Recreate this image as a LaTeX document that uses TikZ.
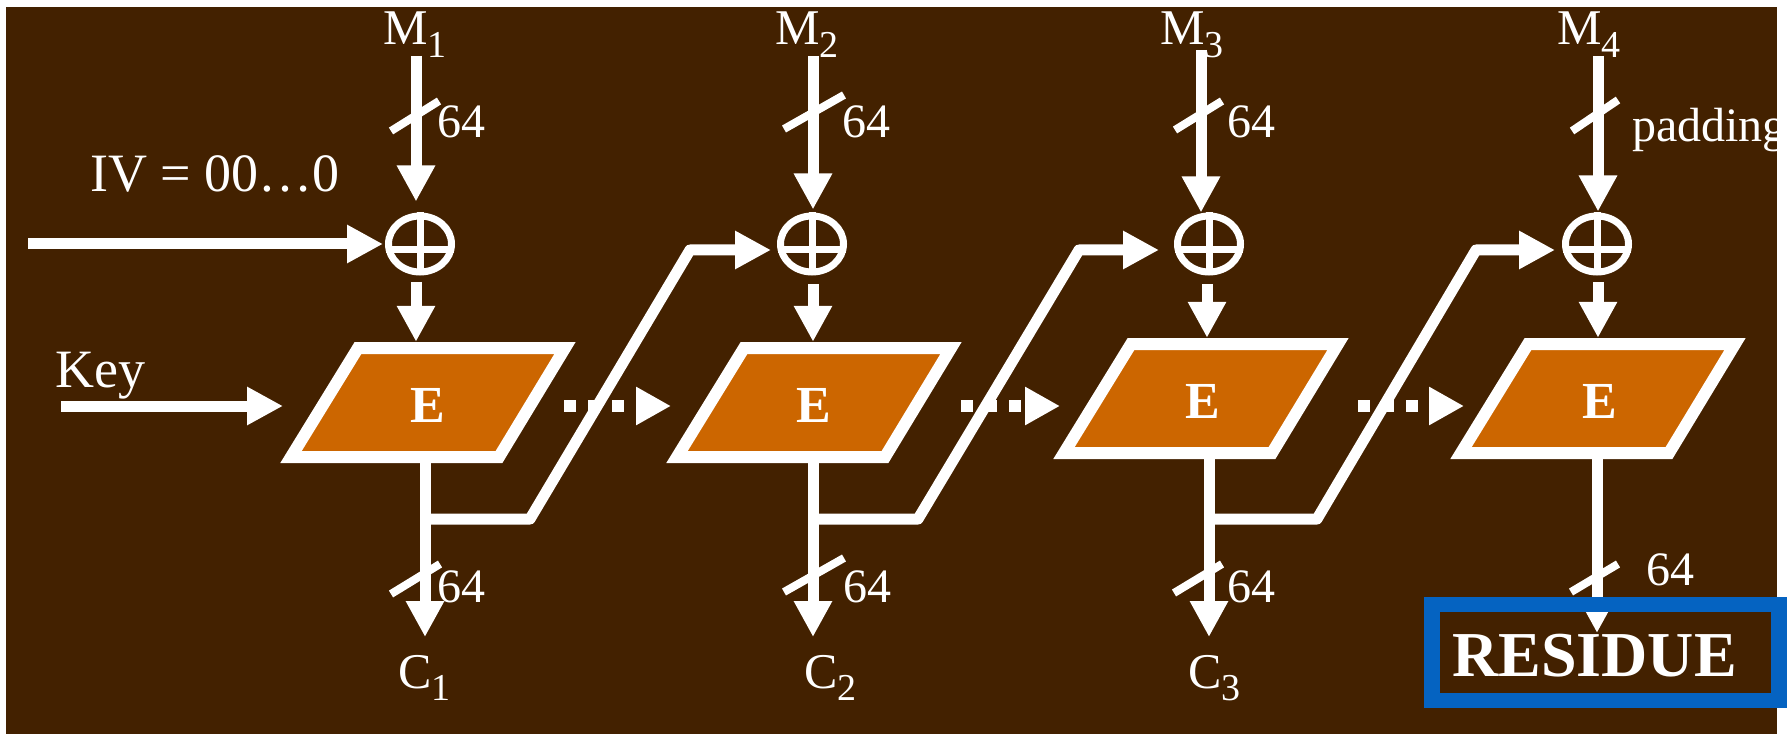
\documentclass[tikz,border=0pt]{standalone}
\usepackage{fontspec}
\setmainfont{Liberation Serif}
\usetikzlibrary{arrows.meta,shapes.geometric,calc}
\definecolor{bgbrown}{HTML}{432100}
\definecolor{eorange}{HTML}{CC6600}
\definecolor{resblue}{HTML}{0563C1}
\newcommand{\sbs}[1]{\raisebox{-12.5pt}{\fontsize{38}{38}\selectfont #1}}
\begin{document}
\begin{tikzpicture}[x=1pt,y=-1pt,
  arr/.style={draw=white, line width=11pt, -{Triangle[length=36pt,width=36pt]}},
  fbline/.style={draw=white, line width=11pt, line join=round, -{Triangle[length=36pt,width=36pt]}},
  dotarr/.style={draw=white, line width=12pt, dash pattern=on 12pt off 12pt, -{Triangle[length=35pt,width=36pt]}},
  slashmark/.style={draw=white, line width=8pt},
  xor/.style={ellipse, draw=white, line width=7pt, minimum width=63pt, minimum height=56pt, inner sep=0pt},
  xorbar/.style={draw=white, line width=7pt},
  ebox/.style={draw=white, line width=12pt, fill=eorange, line join=miter},
  elabel/.style={text=white, font=\fontsize{52}{52}\selectfont\bfseries, minimum height=121pt, minimum width=10pt, inner sep=0pt, text height=40pt, text depth=0pt},
  lbl/.style={text=white, font=\fontsize{50}{60}\selectfont, inner sep=0pt, anchor=base west},
  biglbl/.style={text=white, font=\fontsize{54}{66}\selectfont, inner sep=0pt, anchor=base west},
  numlbl/.style={text=white, font=\fontsize{48}{58}\selectfont, inner sep=0pt, anchor=base west},
  resbox/.style={draw=resblue, line width=15.5pt, minimum width=347pt, minimum height=96pt, inner sep=0pt},
  restext/.style={text=white, font=\fontsize{64}{64}\selectfont\bfseries, inner sep=0pt, anchor=base west},
]
\useasboundingbox (0,0) rectangle (1788,735);
\fill[white] (0,0) rectangle (1788,735);
\fill[bgbrown] (6,7) rectangle (1777,734);

% dotted arrows between the blocks
\coordinate (d1s) at (564,406); \coordinate (d1t) at (671,406);
\coordinate (d2s) at (961,406); \coordinate (d2t) at (1060,406);
\coordinate (d3s) at (1358,406); \coordinate (d3t) at (1464,406);
\draw[dotarr] (d1s) -- (d1t);
\draw[dotarr] (d2s) -- (d2t);
\draw[dotarr] (d3s) -- (d3t);

% E blocks
\draw[ebox] (358,348) -- (565,348) -- (499,457) -- (291,457) -- cycle;
\node[elabel] (E1) at (428,402.5) {E};
\draw[ebox] (744,348) -- (951,348) -- (885,457) -- (677,457) -- cycle;
\node[elabel] (E2) at (814,402.5) {E};
\draw[ebox] (1131,344) -- (1338,344) -- (1272,453) -- (1064,453) -- cycle;
\node[elabel] (E3) at (1203,398.5) {E};
\draw[ebox] (1528,344) -- (1735,344) -- (1669,453) -- (1461,453) -- cycle;
\node[elabel] (E4) at (1600,398.5) {E};

% XOR nodes
\foreach \n/\x in {1/420,2/812,3/1209,4/1597}{
  \node[xor] (X\n) at (\x,244) {};
  \draw[xorbar] (X\n.north) -- (X\n.south);
  \draw[xorbar] ([xshift=1pt,yshift=-6pt]X\n.west) -- ([xshift=-1pt,yshift=-6pt]X\n.east);
}

% labels M
\node[lbl] (M1) at (383,45) {M\sbs{1}};
\node[lbl] (M2) at (775,45) {M\sbs{2}};
\node[lbl] (M3) at (1160,45) {M\sbs{3}};
\node[lbl] (M4) at (1557,45) {M\sbs{4}};

% input lines
\coordinate (m1) at (416,56);
\coordinate (m2) at (813,56);
\coordinate (m3) at (1201,50);
\coordinate (m4) at (1598,56);
\draw[arr, shorten >=11pt] (m1) -- (m1 |- X1.north);
\draw[arr, shorten >=3pt] (m2) -- (m2 |- X2.north);
\draw[arr] (m3) -- (m3 |- X3.north);
\draw[arr, shorten >=1pt] (m4) -- (m4 |- X4.north);

% xor -> E
\coordinate (n1) at (416,282);
\coordinate (n2) at (813,284);
\coordinate (n3) at (1207,284);
\coordinate (n4) at (1598,282);
\draw[arr] (n1) -- (n1 |- E1.north);
\draw[arr] (n2) -- (n2 |- E2.north);
\draw[arr] (n3) -- (n3 |- E3.north);
\draw[arr] (n4) -- (n4 |- E4.north);

% IV and key
\node[biglbl] (IV) at (90,192) {IV = 00…0};
\coordinate (ivs) at (28,244);
\draw[arr, shorten >=2pt] (ivs) -- (X1.west);
\node[biglbl] (Key) at (55,387) {Key};
\coordinate (keys) at (61,406);
\coordinate (keyt) at (283,406);
\draw[arr] (keys) -- (keyt);

% outputs
\coordinate (o1) at (425,519); \coordinate (c1t) at (425,637);
\coordinate (o2) at (813,519); \coordinate (c2t) at (813,637);
\coordinate (o3) at (1209,519); \coordinate (c3t) at (1209,637);
\coordinate (c4t) at (1597,633);
\draw[arr] (o1 |- E1.south) -- (c1t);
\draw[arr] (o2 |- E2.south) -- (c2t);
\draw[arr] (o3 |- E3.south) -- (c3t);
\draw[arr] (c4t |- E4.south) -- (c4t);

% feedback (chaining) lines
\draw[fbline, shorten >=6pt] (o1) -- (530,519) -- (690,250) -- ([yshift=-6pt]X2.west);
\draw[fbline, shorten >=15pt] (o2) -- (918,519) -- (1079,250) -- ([yshift=-6pt]X3.west);
\draw[fbline, shorten >=7pt] (o3) -- (1317,519) -- (1476,250) -- ([yshift=-6pt]X4.west);

% bus width marks
\draw[slashmark] (391,131) -- (439,101);
\draw[slashmark] (784,129) -- (844,95);
\draw[slashmark] (1175,130) -- (1222,101);
\draw[slashmark] (1572,131) -- (1618,100);
\draw[slashmark] (391,594) -- (440,564);
\draw[slashmark] (784,592) -- (844,558);
\draw[slashmark] (1174,593) -- (1222,564);
\draw[slashmark] (1571,592) -- (1618,564);

\node[numlbl] (t1) at (437,138) {64};
\node[numlbl] (t2) at (842,138) {64};
\node[numlbl] (t3) at (1227,138) {64};
\node[numlbl] (pad) at (1632,142) {padding};
\node[numlbl] (b1) at (437,602) {64};
\node[numlbl] (b2) at (843,602) {64};
\node[numlbl] (b3) at (1227,602) {64};
\node[numlbl] (b4) at (1646,585) {64};

% ciphertext labels
\node[lbl] (C1) at (398,688) {C\sbs{1}};
\node[lbl] (C2) at (804,688) {C\sbs{2}};
\node[lbl] (C3) at (1188,688) {C\sbs{3}};

% residue
\node[resbox] (R) at (1605.5,652.5) {};
\node[restext] (Rt) at (1452,676) {RESIDUE};
\end{tikzpicture}
\end{document}
